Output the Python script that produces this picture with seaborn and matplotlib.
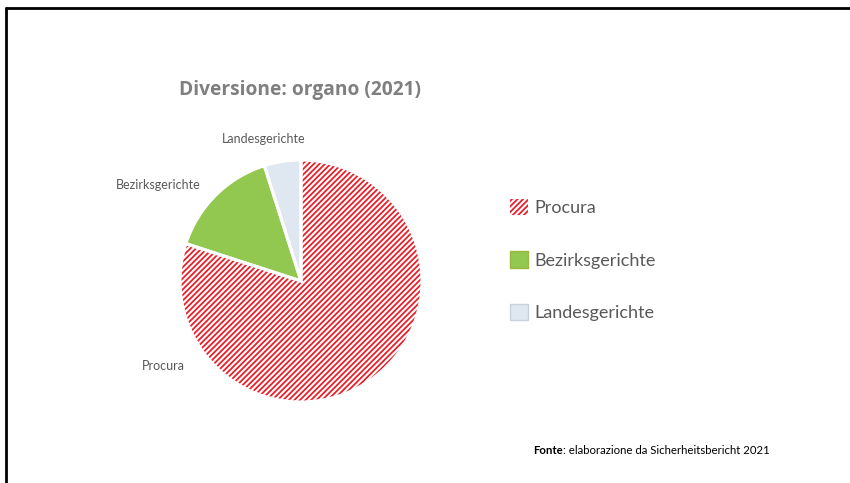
import matplotlib
matplotlib.use("Agg")
import matplotlib.pyplot as plt
from matplotlib.lines import Line2D
import seaborn as sns

# data
organi = ["Procura", "Bezirksgerichte", "Landesgerichte"]
quote = [80.0, 15.1, 4.9]
colori = ["#ffffff", "#92c84f", "#dfe7f0"]

sns.set_theme(style="white")
plt.rcParams["font.family"] = ["Lato", "DejaVu Sans"]
plt.rcParams["hatch.linewidth"] = 1.3

W, H = 850, 483
fig = plt.figure(figsize=(W / 100, H / 100), dpi=100)
fig.patch.set_facecolor("white")

# pie centre (301, 281) px, radius 121 px
cx, cy, r = 301, H - 281, 121
ax = fig.add_axes([(cx - r) / W, (cy - r) / H, 2 * r / W, 2 * r / H])

wedges, _ = ax.pie(quote, colors=colori, startangle=90, counterclock=False,
                   radius=1, wedgeprops=dict(linewidth=0))
wedges[0].set_hatch("//////")
wedges[0].set_edgecolor("#e8202a")
wedges[1].set_edgecolor("#9bb83e")
wedges[2].set_edgecolor("#c9d2dc")

# white separators on top
ax.pie(quote, colors=["none"] * 3, startangle=90, counterclock=False,
       radius=1, wedgeprops=dict(linewidth=2.2, edgecolor="white", fill=False))
ax.set_xlim(-1, 1)
ax.set_ylim(-1, 1)
ax.set_aspect("equal")
ax.axis("off")

# outer labels
lab_col = "#595959"
ax.text(-0.31, 1.17, "Landesgerichte", ha="center", va="center", fontsize=9, color=lab_col, clip_on=False)
ax.text(-1.18, 0.79, "Bezirksgerichte", ha="center", va="center", fontsize=9, color=lab_col, clip_on=False)
ax.text(-1.14, -0.70, "Procura", ha="center", va="center", fontsize=9, color=lab_col, clip_on=False)

fig.text(300 / W, 1 - 90 / H, "Diversione: organo (2021)", ha="center", va="center",
         fontsize=13.8, fontweight="bold", color="#7f7f7f", family="Open Sans")

leg = fig.legend(wedges, organi, loc="center left", bbox_to_anchor=(494 / W, 1 - 260 / H),
                 frameon=False, fontsize=13, labelspacing=1.95, handlelength=1.0,
                 handleheight=1.0, handletextpad=0.35, labelcolor=lab_col)
leg.legend_handles[1].set_linewidth(1)
leg.legend_handles[2].set_linewidth(1)

# source note: bold "Fonte" followed by normal text
fy = 1 - 450 / H
t1 = fig.text(533 / W, fy, "Fonte", ha="left", va="center", fontsize=8.2,
              fontweight="bold", color="black")
fig.canvas.draw()
bb = t1.get_window_extent()
fig.text(bb.x1 / W, fy, ": elaborazione da Sicherheitsbericht 2021", ha="left",
         va="center", fontsize=8.2, color="black")

# frame lines: top and left
fig.add_artist(Line2D([6 / W, 1], [1 - 8 / H, 1 - 8 / H], color="black", lw=2))
fig.add_artist(Line2D([6 / W, 6 / W], [0, 1 - 8 / H], color="black", lw=2))

fig.savefig("out.png", dpi=100)
